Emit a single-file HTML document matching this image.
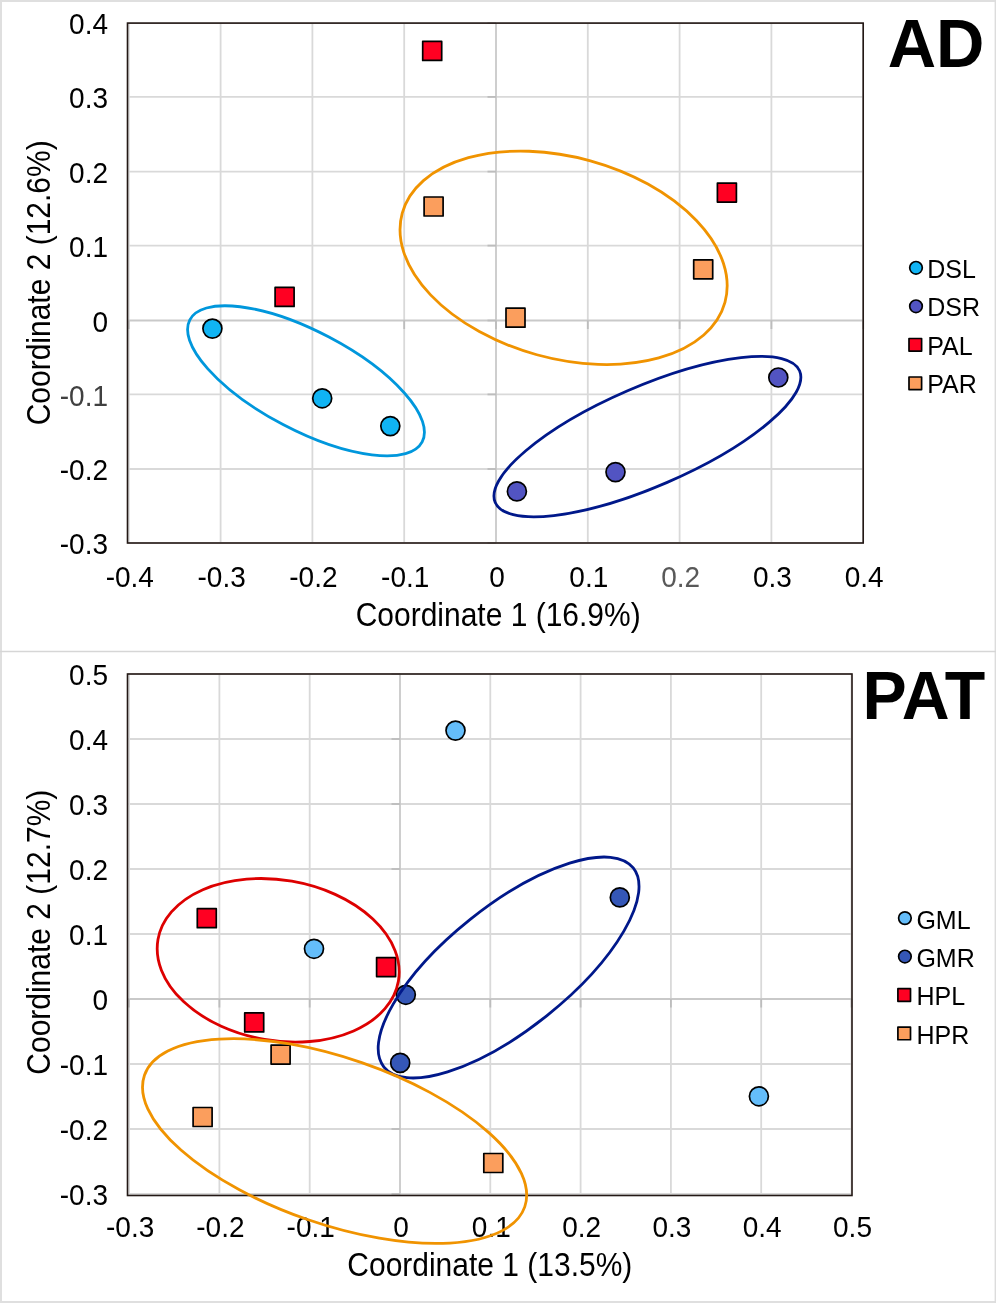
<!DOCTYPE html>
<html><head><meta charset="utf-8"><title>PCoA plots</title>
<style>html,body{margin:0;padding:0;background:#fff;}body{width:996px;height:1303px;overflow:hidden;font-family:"Liberation Sans",sans-serif;}svg{display:block;will-change:transform;}</style>
</head><body>
<svg width="996" height="1303" viewBox="0 0 996 1303" font-family="Liberation Sans, sans-serif">
<rect x="0" y="0" width="996" height="1303" fill="#fff"/>
<rect x="0" y="0" width="996" height="2" fill="#dfdfdf"/>
<rect x="0" y="1301" width="996" height="2" fill="#dfdfdf"/>
<rect x="0" y="0" width="2" height="1303" fill="#dfdfdf"/>
<rect x="994.6" y="0" width="1.4" height="1303" fill="#dcdcdc"/>
<line x1="0" y1="651.5" x2="996" y2="651.5" stroke="#d6d6d6" stroke-width="1.6"/>
<line x1="128.8" y1="23.1" x2="128.8" y2="543.0" stroke="#d9d9d9" stroke-width="1.8"/>
<line x1="220.6" y1="23.1" x2="220.6" y2="543.0" stroke="#d9d9d9" stroke-width="1.8"/>
<line x1="312.4" y1="23.1" x2="312.4" y2="543.0" stroke="#d9d9d9" stroke-width="1.8"/>
<line x1="404.2" y1="23.1" x2="404.2" y2="543.0" stroke="#d9d9d9" stroke-width="1.8"/>
<line x1="587.8" y1="23.1" x2="587.8" y2="543.0" stroke="#d9d9d9" stroke-width="1.8"/>
<line x1="679.6" y1="23.1" x2="679.6" y2="543.0" stroke="#d9d9d9" stroke-width="1.8"/>
<line x1="771.4" y1="23.1" x2="771.4" y2="543.0" stroke="#d9d9d9" stroke-width="1.8"/>
<line x1="863.2" y1="23.1" x2="863.2" y2="543.0" stroke="#d9d9d9" stroke-width="1.8"/>
<line x1="127.5" y1="23.1" x2="863.2" y2="23.1" stroke="#d9d9d9" stroke-width="1.8"/>
<line x1="127.5" y1="96.9" x2="863.2" y2="96.9" stroke="#d9d9d9" stroke-width="1.8"/>
<line x1="127.5" y1="171.6" x2="863.2" y2="171.6" stroke="#d9d9d9" stroke-width="1.8"/>
<line x1="127.5" y1="245.6" x2="863.2" y2="245.6" stroke="#d9d9d9" stroke-width="1.8"/>
<line x1="127.5" y1="394.4" x2="863.2" y2="394.4" stroke="#d9d9d9" stroke-width="1.8"/>
<line x1="127.5" y1="469.0" x2="863.2" y2="469.0" stroke="#d9d9d9" stroke-width="1.8"/>
<line x1="127.5" y1="543.0" x2="863.2" y2="543.0" stroke="#d9d9d9" stroke-width="1.8"/>
<line x1="496.0" y1="23.1" x2="496.0" y2="543.0" stroke="#c9c9c9" stroke-width="1.8"/>
<line x1="127.5" y1="320.5" x2="863.2" y2="320.5" stroke="#c9c9c9" stroke-width="1.8"/>
<line x1="128.8" y1="320.5" x2="128.8" y2="329.0" stroke="#bdbdbd" stroke-width="1.8"/>
<line x1="220.6" y1="320.5" x2="220.6" y2="329.0" stroke="#bdbdbd" stroke-width="1.8"/>
<line x1="312.4" y1="320.5" x2="312.4" y2="329.0" stroke="#bdbdbd" stroke-width="1.8"/>
<line x1="404.2" y1="320.5" x2="404.2" y2="329.0" stroke="#bdbdbd" stroke-width="1.8"/>
<line x1="496.0" y1="320.5" x2="496.0" y2="329.0" stroke="#bdbdbd" stroke-width="1.8"/>
<line x1="587.8" y1="320.5" x2="587.8" y2="329.0" stroke="#bdbdbd" stroke-width="1.8"/>
<line x1="679.6" y1="320.5" x2="679.6" y2="329.0" stroke="#bdbdbd" stroke-width="1.8"/>
<line x1="771.4" y1="320.5" x2="771.4" y2="329.0" stroke="#bdbdbd" stroke-width="1.8"/>
<line x1="863.2" y1="320.5" x2="863.2" y2="329.0" stroke="#bdbdbd" stroke-width="1.8"/>
<line x1="487.5" y1="23.1" x2="496.0" y2="23.1" stroke="#bdbdbd" stroke-width="1.8"/>
<line x1="487.5" y1="96.9" x2="496.0" y2="96.9" stroke="#bdbdbd" stroke-width="1.8"/>
<line x1="487.5" y1="171.6" x2="496.0" y2="171.6" stroke="#bdbdbd" stroke-width="1.8"/>
<line x1="487.5" y1="245.6" x2="496.0" y2="245.6" stroke="#bdbdbd" stroke-width="1.8"/>
<line x1="487.5" y1="320.5" x2="496.0" y2="320.5" stroke="#bdbdbd" stroke-width="1.8"/>
<line x1="487.5" y1="394.4" x2="496.0" y2="394.4" stroke="#bdbdbd" stroke-width="1.8"/>
<line x1="487.5" y1="469.0" x2="496.0" y2="469.0" stroke="#bdbdbd" stroke-width="1.8"/>
<line x1="487.5" y1="543.0" x2="496.0" y2="543.0" stroke="#bdbdbd" stroke-width="1.8"/>
<rect x="127.5" y="23.1" width="735.7" height="519.9" fill="none" stroke="#231815" stroke-width="1.6"/>
<text transform="translate(108.0 34.3) scale(1 1.07)" font-size="28" text-anchor="end" fill="#000" font-weight="normal">0.4</text>
<text transform="translate(108.0 108.10000000000001) scale(1 1.07)" font-size="28" text-anchor="end" fill="#000" font-weight="normal">0.3</text>
<text transform="translate(108.0 182.79999999999998) scale(1 1.07)" font-size="28" text-anchor="end" fill="#000" font-weight="normal">0.2</text>
<text transform="translate(108.0 256.8) scale(1 1.07)" font-size="28" text-anchor="end" fill="#000" font-weight="normal">0.1</text>
<text transform="translate(108.0 331.7) scale(1 1.07)" font-size="28" text-anchor="end" fill="#000" font-weight="normal">0</text>
<text transform="translate(108.0 405.59999999999997) scale(1 1.07)" font-size="28" text-anchor="end" fill="#404040" font-weight="normal">-0.1</text>
<text transform="translate(108.0 480.2) scale(1 1.07)" font-size="28" text-anchor="end" fill="#000" font-weight="normal">-0.2</text>
<text transform="translate(108.0 554.2) scale(1 1.07)" font-size="28" text-anchor="end" fill="#000" font-weight="normal">-0.3</text>
<text transform="translate(129.8 586.5) scale(1 1.07)" font-size="28" text-anchor="middle" fill="#000" font-weight="normal">-0.4</text>
<text transform="translate(221.6 586.5) scale(1 1.07)" font-size="28" text-anchor="middle" fill="#000" font-weight="normal">-0.3</text>
<text transform="translate(313.4 586.5) scale(1 1.07)" font-size="28" text-anchor="middle" fill="#000" font-weight="normal">-0.2</text>
<text transform="translate(405.2 586.5) scale(1 1.07)" font-size="28" text-anchor="middle" fill="#000" font-weight="normal">-0.1</text>
<text transform="translate(497.0 586.5) scale(1 1.07)" font-size="28" text-anchor="middle" fill="#000" font-weight="normal">0</text>
<text transform="translate(588.8 586.5) scale(1 1.07)" font-size="28" text-anchor="middle" fill="#000" font-weight="normal">0.1</text>
<text transform="translate(680.6 586.5) scale(1 1.07)" font-size="28" text-anchor="middle" fill="#595959" font-weight="normal">0.2</text>
<text transform="translate(772.4 586.5) scale(1 1.07)" font-size="28" text-anchor="middle" fill="#000" font-weight="normal">0.3</text>
<text transform="translate(864.2 586.5) scale(1 1.07)" font-size="28" text-anchor="middle" fill="#000" font-weight="normal">0.4</text>
<text transform="translate(498.2 626.2) scale(1 1.09)" font-size="30" text-anchor="middle" fill="#000" font-weight="normal">Coordinate 1 (16.9%)</text>
<text transform="translate(49.8 282.8) rotate(-90) scale(1 1.09)" font-size="30" text-anchor="middle" fill="#000" font-weight="normal">Coordinate 2 (12.6%)</text>
<text transform="translate(984.5 67.4) scale(1 1.015)" font-size="67" text-anchor="end" fill="#000" font-weight="bold">AD</text>
<rect x="422.70" y="41.40" width="19.0" height="19.0" fill="#ff0022" stroke="#000" stroke-width="1.7" stroke-linejoin="round"/>
<rect x="424.10" y="197.00" width="19.0" height="19.0" fill="#fb9e5d" stroke="#000" stroke-width="1.7" stroke-linejoin="round"/>
<rect x="717.40" y="183.10" width="19.0" height="19.0" fill="#ff0022" stroke="#000" stroke-width="1.7" stroke-linejoin="round"/>
<rect x="693.70" y="259.80" width="19.0" height="19.0" fill="#fb9e5d" stroke="#000" stroke-width="1.7" stroke-linejoin="round"/>
<rect x="506.00" y="308.20" width="19.0" height="19.0" fill="#fb9e5d" stroke="#000" stroke-width="1.7" stroke-linejoin="round"/>
<rect x="275.10" y="287.40" width="19.0" height="19.0" fill="#ff0022" stroke="#000" stroke-width="1.7" stroke-linejoin="round"/>
<circle cx="212.4" cy="328.6" r="9.5" fill="#10b4f4" stroke="#000" stroke-width="1.7"/>
<circle cx="322.2" cy="398.3" r="9.5" fill="#10b4f4" stroke="#000" stroke-width="1.7"/>
<circle cx="390.3" cy="426.1" r="9.5" fill="#10b4f4" stroke="#000" stroke-width="1.7"/>
<circle cx="516.9" cy="491.4" r="9.5" fill="#5254c2" stroke="#000" stroke-width="1.7"/>
<circle cx="615.5" cy="472.1" r="9.5" fill="#5254c2" stroke="#000" stroke-width="1.7"/>
<circle cx="778.3" cy="377.5" r="9.5" fill="#5254c2" stroke="#000" stroke-width="1.7"/>
<ellipse cx="306.0" cy="380.8" rx="131.2" ry="49.4" transform="rotate(27.7 306.0 380.8)" fill="none" stroke="#0097dc" stroke-width="2.8"/>
<ellipse cx="563.6" cy="257.8" rx="167.4" ry="100.6" transform="rotate(15.44 563.6 257.8)" fill="none" stroke="#f09300" stroke-width="2.8"/>
<ellipse cx="647.4" cy="436.6" rx="165.8" ry="49.9" transform="rotate(-23.4 647.4 436.6)" fill="none" stroke="#00188a" stroke-width="2.8"/>
<circle cx="916.0" cy="267.8" r="6.3" fill="#10b4f4" stroke="#000" stroke-width="1.7"/>
<text transform="translate(927.3 277.5)" font-size="25" text-anchor="start" fill="#000" font-weight="normal">DSL</text>
<circle cx="916.0" cy="306.3" r="6.3" fill="#5254c2" stroke="#000" stroke-width="1.7"/>
<text transform="translate(927.3 316.0)" font-size="25" text-anchor="start" fill="#000" font-weight="normal">DSR</text>
<rect x="909.00" y="338.50" width="12.6" height="12.6" fill="#ff0022" stroke="#000" stroke-width="1.7" stroke-linejoin="round"/>
<text transform="translate(927.3 354.5)" font-size="25" text-anchor="start" fill="#000" font-weight="normal">PAL</text>
<rect x="909.00" y="377.00" width="12.6" height="12.6" fill="#fb9e5d" stroke="#000" stroke-width="1.7" stroke-linejoin="round"/>
<text transform="translate(927.3 393.0)" font-size="25" text-anchor="start" fill="#000" font-weight="normal">PAR</text>
<line x1="129.1" y1="674.0" x2="129.1" y2="1195.5" stroke="#d9d9d9" stroke-width="1.8"/>
<line x1="219.4" y1="674.0" x2="219.4" y2="1195.5" stroke="#d9d9d9" stroke-width="1.8"/>
<line x1="309.7" y1="674.0" x2="309.7" y2="1195.5" stroke="#d9d9d9" stroke-width="1.8"/>
<line x1="490.3" y1="674.0" x2="490.3" y2="1195.5" stroke="#d9d9d9" stroke-width="1.8"/>
<line x1="580.6" y1="674.0" x2="580.6" y2="1195.5" stroke="#d9d9d9" stroke-width="1.8"/>
<line x1="670.9" y1="674.0" x2="670.9" y2="1195.5" stroke="#d9d9d9" stroke-width="1.8"/>
<line x1="761.2" y1="674.0" x2="761.2" y2="1195.5" stroke="#d9d9d9" stroke-width="1.8"/>
<line x1="851.5" y1="674.0" x2="851.5" y2="1195.5" stroke="#d9d9d9" stroke-width="1.8"/>
<line x1="127.5" y1="674.0" x2="852.0" y2="674.0" stroke="#d9d9d9" stroke-width="1.8"/>
<line x1="127.5" y1="739.0" x2="852.0" y2="739.0" stroke="#d9d9d9" stroke-width="1.8"/>
<line x1="127.5" y1="804.0" x2="852.0" y2="804.0" stroke="#d9d9d9" stroke-width="1.8"/>
<line x1="127.5" y1="869.0" x2="852.0" y2="869.0" stroke="#d9d9d9" stroke-width="1.8"/>
<line x1="127.5" y1="934.0" x2="852.0" y2="934.0" stroke="#d9d9d9" stroke-width="1.8"/>
<line x1="127.5" y1="1064.0" x2="852.0" y2="1064.0" stroke="#d9d9d9" stroke-width="1.8"/>
<line x1="127.5" y1="1129.0" x2="852.0" y2="1129.0" stroke="#d9d9d9" stroke-width="1.8"/>
<line x1="127.5" y1="1194.0" x2="852.0" y2="1194.0" stroke="#d9d9d9" stroke-width="1.8"/>
<line x1="400.0" y1="674.0" x2="400.0" y2="1195.5" stroke="#c9c9c9" stroke-width="1.8"/>
<line x1="127.5" y1="999.0" x2="852.0" y2="999.0" stroke="#c9c9c9" stroke-width="1.8"/>
<line x1="129.1" y1="999.0" x2="129.1" y2="1007.5" stroke="#bdbdbd" stroke-width="1.8"/>
<line x1="219.4" y1="999.0" x2="219.4" y2="1007.5" stroke="#bdbdbd" stroke-width="1.8"/>
<line x1="309.7" y1="999.0" x2="309.7" y2="1007.5" stroke="#bdbdbd" stroke-width="1.8"/>
<line x1="400.0" y1="999.0" x2="400.0" y2="1007.5" stroke="#bdbdbd" stroke-width="1.8"/>
<line x1="490.3" y1="999.0" x2="490.3" y2="1007.5" stroke="#bdbdbd" stroke-width="1.8"/>
<line x1="580.6" y1="999.0" x2="580.6" y2="1007.5" stroke="#bdbdbd" stroke-width="1.8"/>
<line x1="670.9" y1="999.0" x2="670.9" y2="1007.5" stroke="#bdbdbd" stroke-width="1.8"/>
<line x1="761.2" y1="999.0" x2="761.2" y2="1007.5" stroke="#bdbdbd" stroke-width="1.8"/>
<line x1="851.5" y1="999.0" x2="851.5" y2="1007.5" stroke="#bdbdbd" stroke-width="1.8"/>
<line x1="391.5" y1="674.0" x2="400.0" y2="674.0" stroke="#bdbdbd" stroke-width="1.8"/>
<line x1="391.5" y1="739.0" x2="400.0" y2="739.0" stroke="#bdbdbd" stroke-width="1.8"/>
<line x1="391.5" y1="804.0" x2="400.0" y2="804.0" stroke="#bdbdbd" stroke-width="1.8"/>
<line x1="391.5" y1="869.0" x2="400.0" y2="869.0" stroke="#bdbdbd" stroke-width="1.8"/>
<line x1="391.5" y1="934.0" x2="400.0" y2="934.0" stroke="#bdbdbd" stroke-width="1.8"/>
<line x1="391.5" y1="999.0" x2="400.0" y2="999.0" stroke="#bdbdbd" stroke-width="1.8"/>
<line x1="391.5" y1="1064.0" x2="400.0" y2="1064.0" stroke="#bdbdbd" stroke-width="1.8"/>
<line x1="391.5" y1="1129.0" x2="400.0" y2="1129.0" stroke="#bdbdbd" stroke-width="1.8"/>
<line x1="391.5" y1="1194.0" x2="400.0" y2="1194.0" stroke="#bdbdbd" stroke-width="1.8"/>
<rect x="127.5" y="674.0" width="724.5" height="521.5" fill="none" stroke="#231815" stroke-width="1.6"/>
<text transform="translate(108.0 685.2) scale(1 1.07)" font-size="28" text-anchor="end" fill="#000" font-weight="normal">0.5</text>
<text transform="translate(108.0 750.2) scale(1 1.07)" font-size="28" text-anchor="end" fill="#000" font-weight="normal">0.4</text>
<text transform="translate(108.0 815.2) scale(1 1.07)" font-size="28" text-anchor="end" fill="#000" font-weight="normal">0.3</text>
<text transform="translate(108.0 880.2) scale(1 1.07)" font-size="28" text-anchor="end" fill="#000" font-weight="normal">0.2</text>
<text transform="translate(108.0 945.2) scale(1 1.07)" font-size="28" text-anchor="end" fill="#000" font-weight="normal">0.1</text>
<text transform="translate(108.0 1010.2) scale(1 1.07)" font-size="28" text-anchor="end" fill="#000" font-weight="normal">0</text>
<text transform="translate(108.0 1075.2) scale(1 1.07)" font-size="28" text-anchor="end" fill="#000" font-weight="normal">-0.1</text>
<text transform="translate(108.0 1140.2) scale(1 1.07)" font-size="28" text-anchor="end" fill="#000" font-weight="normal">-0.2</text>
<text transform="translate(108.0 1205.2) scale(1 1.07)" font-size="28" text-anchor="end" fill="#000" font-weight="normal">-0.3</text>
<text transform="translate(130.1 1237.0) scale(1 1.07)" font-size="28" text-anchor="middle" fill="#000" font-weight="normal">-0.3</text>
<text transform="translate(220.4 1237.0) scale(1 1.07)" font-size="28" text-anchor="middle" fill="#000" font-weight="normal">-0.2</text>
<text transform="translate(310.7 1237.0) scale(1 1.07)" font-size="28" text-anchor="middle" fill="#000" font-weight="normal">-0.1</text>
<text transform="translate(401.0 1237.0) scale(1 1.07)" font-size="28" text-anchor="middle" fill="#000" font-weight="normal">0</text>
<text transform="translate(491.3 1237.0) scale(1 1.07)" font-size="28" text-anchor="middle" fill="#000" font-weight="normal">0.1</text>
<text transform="translate(581.6 1237.0) scale(1 1.07)" font-size="28" text-anchor="middle" fill="#000" font-weight="normal">0.2</text>
<text transform="translate(671.9 1237.0) scale(1 1.07)" font-size="28" text-anchor="middle" fill="#000" font-weight="normal">0.3</text>
<text transform="translate(762.2 1237.0) scale(1 1.07)" font-size="28" text-anchor="middle" fill="#000" font-weight="normal">0.4</text>
<text transform="translate(852.5 1237.0) scale(1 1.07)" font-size="28" text-anchor="middle" fill="#000" font-weight="normal">0.5</text>
<text transform="translate(489.8 1275.5) scale(1 1.09)" font-size="30" text-anchor="middle" fill="#000" font-weight="normal">Coordinate 1 (13.5%)</text>
<text transform="translate(49.8 932.2) rotate(-90) scale(1 1.09)" font-size="30" text-anchor="middle" fill="#000" font-weight="normal">Coordinate 2 (12.7%)</text>
<text transform="translate(985.2 719.1) scale(1 1.047)" font-size="66.3" text-anchor="end" fill="#000" font-weight="bold">PAT</text>
<circle cx="455.5" cy="730.6" r="9.5" fill="#64bdfa" stroke="#000" stroke-width="1.7"/>
<circle cx="314.0" cy="948.8" r="9.5" fill="#64bdfa" stroke="#000" stroke-width="1.7"/>
<circle cx="758.9" cy="1096.3" r="9.5" fill="#64bdfa" stroke="#000" stroke-width="1.7"/>
<circle cx="619.8" cy="897.4" r="9.5" fill="#3557b7" stroke="#000" stroke-width="1.7"/>
<circle cx="405.8" cy="994.8" r="9.5" fill="#3557b7" stroke="#000" stroke-width="1.7"/>
<circle cx="400.2" cy="1062.9" r="9.5" fill="#3557b7" stroke="#000" stroke-width="1.7"/>
<rect x="197.30" y="908.70" width="19.0" height="19.0" fill="#ff0022" stroke="#000" stroke-width="1.7" stroke-linejoin="round"/>
<rect x="376.60" y="957.60" width="19.0" height="19.0" fill="#ff0022" stroke="#000" stroke-width="1.7" stroke-linejoin="round"/>
<rect x="244.70" y="1012.90" width="19.0" height="19.0" fill="#ff0022" stroke="#000" stroke-width="1.7" stroke-linejoin="round"/>
<rect x="271.10" y="1045.10" width="19.0" height="19.0" fill="#fb9e5d" stroke="#000" stroke-width="1.7" stroke-linejoin="round"/>
<rect x="193.10" y="1107.50" width="19.0" height="19.0" fill="#fb9e5d" stroke="#000" stroke-width="1.7" stroke-linejoin="round"/>
<rect x="483.80" y="1153.50" width="19.0" height="19.0" fill="#fb9e5d" stroke="#000" stroke-width="1.7" stroke-linejoin="round"/>
<ellipse cx="278.2" cy="960.3" rx="122.0" ry="80.3" transform="rotate(9.78 278.2 960.3)" fill="none" stroke="#dd0000" stroke-width="2.8"/>
<ellipse cx="508.6" cy="967.5" rx="159.5" ry="61.5" transform="rotate(-38.6 508.6 967.5)" fill="none" stroke="#00188a" stroke-width="2.8"/>
<ellipse cx="334.6" cy="1141.1" rx="201.2" ry="83.0" transform="rotate(19.08 334.6 1141.1)" fill="none" stroke="#f09300" stroke-width="2.8"/>
<circle cx="904.9" cy="918.1" r="6.3" fill="#64bdfa" stroke="#000" stroke-width="1.7"/>
<text transform="translate(916.4 928.5)" font-size="25" text-anchor="start" fill="#000" font-weight="normal">GML</text>
<circle cx="904.9" cy="956.5500000000001" r="6.3" fill="#3557b7" stroke="#000" stroke-width="1.7"/>
<text transform="translate(916.4 966.95)" font-size="25" text-anchor="start" fill="#000" font-weight="normal">GMR</text>
<rect x="897.90" y="988.70" width="12.6" height="12.6" fill="#ff0022" stroke="#000" stroke-width="1.7" stroke-linejoin="round"/>
<text transform="translate(916.4 1005.4)" font-size="25" text-anchor="start" fill="#000" font-weight="normal">HPL</text>
<rect x="897.90" y="1027.15" width="12.6" height="12.6" fill="#fb9e5d" stroke="#000" stroke-width="1.7" stroke-linejoin="round"/>
<text transform="translate(916.4 1043.8500000000001)" font-size="25" text-anchor="start" fill="#000" font-weight="normal">HPR</text>
</svg>
</body></html>
